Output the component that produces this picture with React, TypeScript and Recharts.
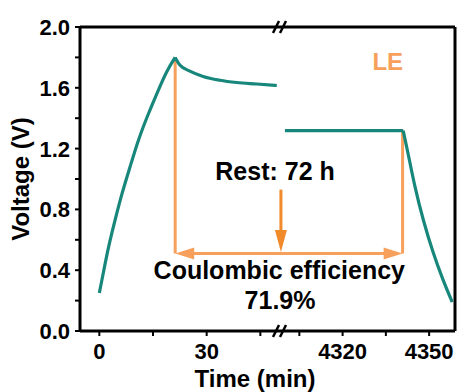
import React from 'react'
import { LineChart, Line, XAxis, YAxis, ReferenceLine, ReferenceDot } from 'recharts'

// charge curve (min, V)
const CHARGE_T = [0, 1.1, 2.5, 4.4, 6.3, 8.6, 10.9, 13.7, 16.5, 18.8, 21.2]
const CHARGE_V = [0.25, 0.38, 0.55, 0.73, 0.905, 1.08, 1.26, 1.43, 1.585, 1.71, 1.8]

// rest, before the break
const REST1_T = [21.2, 22.5, 25.3, 29, 33.7, 38.4, 44, 49.6]
const REST1_V = [1.8, 1.75, 1.71, 1.675, 1.65, 1.635, 1.625, 1.615]

// rest, after the break
const REST2_T = [4300, 4341]
const REST2_V = [1.318, 1.318]

// discharge
const DIS_T = [4341, 4342.7, 4345, 4347.9, 4351.4, 4354.8, 4358]
const DIS_V = [1.318, 1.17, 0.95, 0.73, 0.51, 0.335, 0.19]

const X_MAJOR = [0, 30, 4320, 4350]
const X_MINOR = [15, 45, 4305, 4335]
const Y_TICKS = [0, 0.2, 0.4, 0.6, 0.8, 1.0, 1.2, 1.4, 1.6, 1.8, 2.0]

// annotation anchors
const PEAK_T = 21.2
const PEAK_V = 1.8
const END_T = 4340.8
const END_V = 1.318
const CE_LEVEL = 0.51
const REST_ARROW_TOP = 0.93
const REST_ARROW_TIP = 0.52

// broken axis: left part plain minutes, right part squeezed after the break
const BREAK_U = 50.5
const RIGHT_T0 = 4298.3
const RIGHT_K = 0.806
const U_MIN = -5.4
const U_MAX = 99.4

const toU = (t: number) => (t < 1000 ? t : BREAK_U + (t - RIGHT_T0) * RIGHT_K)

const build = (ts: number[], vs: number[]) => ts.map((t, i) => ({ u: toU(t), v: vs[i] }))

const chargeData = build(CHARGE_T, CHARGE_V)
const rest1Data = build(REST1_T, REST1_V)
const rest2Data = build(REST2_T, REST2_V)
const disData = build(DIS_T, DIS_V)

const key = (u: number) => Number(u.toFixed(3))
const xLabels = new Map<number, string>()
X_MAJOR.forEach((t) => xLabels.set(key(toU(t)), String(t)))
const xTicks = [...X_MAJOR, ...X_MINOR].map((t) => key(toU(t))).sort((a, b) => a - b)

const FONT = '"Liberation Sans", Arial, sans-serif'
const TEAL = '#18877b'
const ORANGE = '#f7a05c'
const ORANGE_DARK = '#f08a2a'

const XTick = (p: any) => {
  const label = xLabels.get(key(p.payload.value))
  if (!label) return null
  return (
    <text x={p.x} y={p.y} dy="0.71em" textAnchor="middle" fill="#000" fontSize={22} fontWeight={700} fontFamily={FONT}>
      {label}
    </text>
  )
}

const YTick = (p: any) => {
  const v = p.payload.value
  if (Math.round(v * 10) % 4 !== 0) return null
  return (
    <text x={p.x} y={p.y} dy="0.36em" textAnchor="end" fill="#000" fontSize={22} fontWeight={700} fontFamily={FONT}>
      {v.toFixed(1)}
    </text>
  )
}

const DoubleArrow = (p: any) => {
  const { x1, y1, x2, y2 } = p
  const hl = 19
  const hw = 6
  return (
    <g>
      <line x1={x1 + hl - 2} y1={y1} x2={x2 - hl + 2} y2={y2} stroke={ORANGE} strokeWidth={3} />
      <polygon points={`${x1},${y1} ${x1 + hl},${y1 - hw} ${x1 + hl},${y1 + hw}`} fill={ORANGE} />
      <polygon points={`${x2},${y2} ${x2 - hl},${y2 - hw} ${x2 - hl},${y2 + hw}`} fill={ORANGE} />
    </g>
  )
}

const DownArrow = (p: any) => {
  const { x1, y1, x2, y2 } = p
  const hl = 22
  const hw = 6
  return (
    <g>
      <line x1={x1} y1={y1} x2={x2} y2={y2 - hl + 2} stroke={ORANGE_DARK} strokeWidth={3} />
      <polygon points={`${x2},${y2} ${x2 - hw},${y2 - hl} ${x2 + hw},${y2 - hl}`} fill={ORANGE_DARK} />
    </g>
  )
}

const BreakMark = (p: any) => {
  const { cx, cy } = p
  return (
    <g stroke="#000" strokeWidth={2.5}>
      <line x1={cx - 7} y1={cy + 6} x2={cx - 1} y2={cy - 6} />
      <line x1={cx} y1={cy + 6} x2={cx + 6} y2={cy - 6} />
    </g>
  )
}

const note = (txt: string, color: string, size: number) => (p: any) => (
  <text x={p.cx} y={p.cy} textAnchor="middle" fill={color} fontSize={size} fontWeight={700} fontFamily={FONT}>
    {txt}
  </text>
)

export default function App() {
  return (
    <div style={{ position: 'absolute', left: 0, top: 0, width: 458, height: 392, background: '#fff' }}>
      <LineChart width={458} height={392} margin={{ top: 27, right: 3, bottom: 0, left: 10 }}>
        <XAxis
          dataKey="u"
          type="number"
          domain={[U_MIN, U_MAX]}
          allowDataOverflow
          ticks={xTicks}
          interval={0}
          tick={<XTick />}
          tickSize={5}
          tickMargin={7}
          tickLine={{ stroke: '#000', strokeWidth: 2 }}
          axisLine={{ stroke: '#000', strokeWidth: 3 }}
          height={61}
          label={(props: any) => {
            const vb = props.viewBox
            return (
              <text x={vb.x + 175} y={vb.y + 56} textAnchor="middle" fontSize={24} fontWeight={700} fontFamily={FONT} fill="#000">
                Time (min)
              </text>
            )
          }}
        />
        <YAxis
          type="number"
          domain={[0, 2]}
          ticks={Y_TICKS}
          interval={0}
          tick={<YTick />}
          tickSize={5}
          tickMargin={5}
          tickLine={{ stroke: '#000', strokeWidth: 2 }}
          axisLine={{ stroke: '#000', strokeWidth: 3 }}
          width={70}
          label={(props: any) => {
            const vb = props.viewBox
            const cx = vb.x + 19
            const cy = vb.y + vb.height / 2
            return (
              <text
                x={cx}
                y={cy}
                textAnchor="middle"
                transform={`rotate(-90, ${cx}, ${cy})`}
                fontSize={24}
                fontWeight={700}
                fontFamily={FONT}
                fill="#000"
              >
                Voltage (V)
              </text>
            )
          }}
        />
        <ReferenceLine y={2} stroke="#000" strokeWidth={3} />
        <ReferenceLine x={U_MAX} stroke="#000" strokeWidth={3} />

        <ReferenceLine
          segment={[
            { x: toU(PEAK_T), y: PEAK_V },
            { x: toU(PEAK_T), y: CE_LEVEL },
          ]}
          stroke={ORANGE}
          strokeWidth={3}
        />
        <ReferenceLine
          segment={[
            { x: toU(END_T), y: END_V },
            { x: toU(END_T), y: CE_LEVEL },
          ]}
          stroke={ORANGE}
          strokeWidth={3}
        />
        <ReferenceLine
          segment={[
            { x: toU(PEAK_T), y: CE_LEVEL },
            { x: toU(END_T), y: CE_LEVEL },
          ]}
          shape={(p: any) => <DoubleArrow {...p} />}
        />
        <ReferenceLine
          segment={[
            { x: 50.75, y: REST_ARROW_TOP },
            { x: 50.75, y: REST_ARROW_TIP },
          ]}
          shape={(p: any) => <DownArrow {...p} />}
        />

        <Line data={chargeData} dataKey="v" type="basis" stroke={TEAL} strokeWidth={3.2} dot={false} isAnimationActive={false} />
        <Line data={rest1Data} dataKey="v" type="monotone" stroke={TEAL} strokeWidth={3.2} dot={false} isAnimationActive={false} />
        <Line data={rest2Data} dataKey="v" type="linear" stroke={TEAL} strokeWidth={3.2} dot={false} isAnimationActive={false} />
        <Line data={disData} dataKey="v" type="basis" stroke={TEAL} strokeWidth={3.2} dot={false} isAnimationActive={false} />

        <ReferenceDot x={BREAK_U} y={2} shape={(p: any) => <BreakMark {...p} />} />
        <ReferenceDot x={BREAK_U} y={0} shape={(p: any) => <BreakMark {...p} />} />

        <ReferenceDot x={80.6} y={1.717} shape={note('LE', ORANGE, 24)} />
        <ReferenceDot x={49.1} y={0.992} shape={note('Rest: 72 h', '#000', 25)} />
        <ReferenceDot x={50.3} y={0.345} shape={note('Coulombic efficiency', '#000', 25)} />
        <ReferenceDot x={50.5} y={0.143} shape={note('71.9%', '#000', 25)} />
      </LineChart>
    </div>
  )
}
